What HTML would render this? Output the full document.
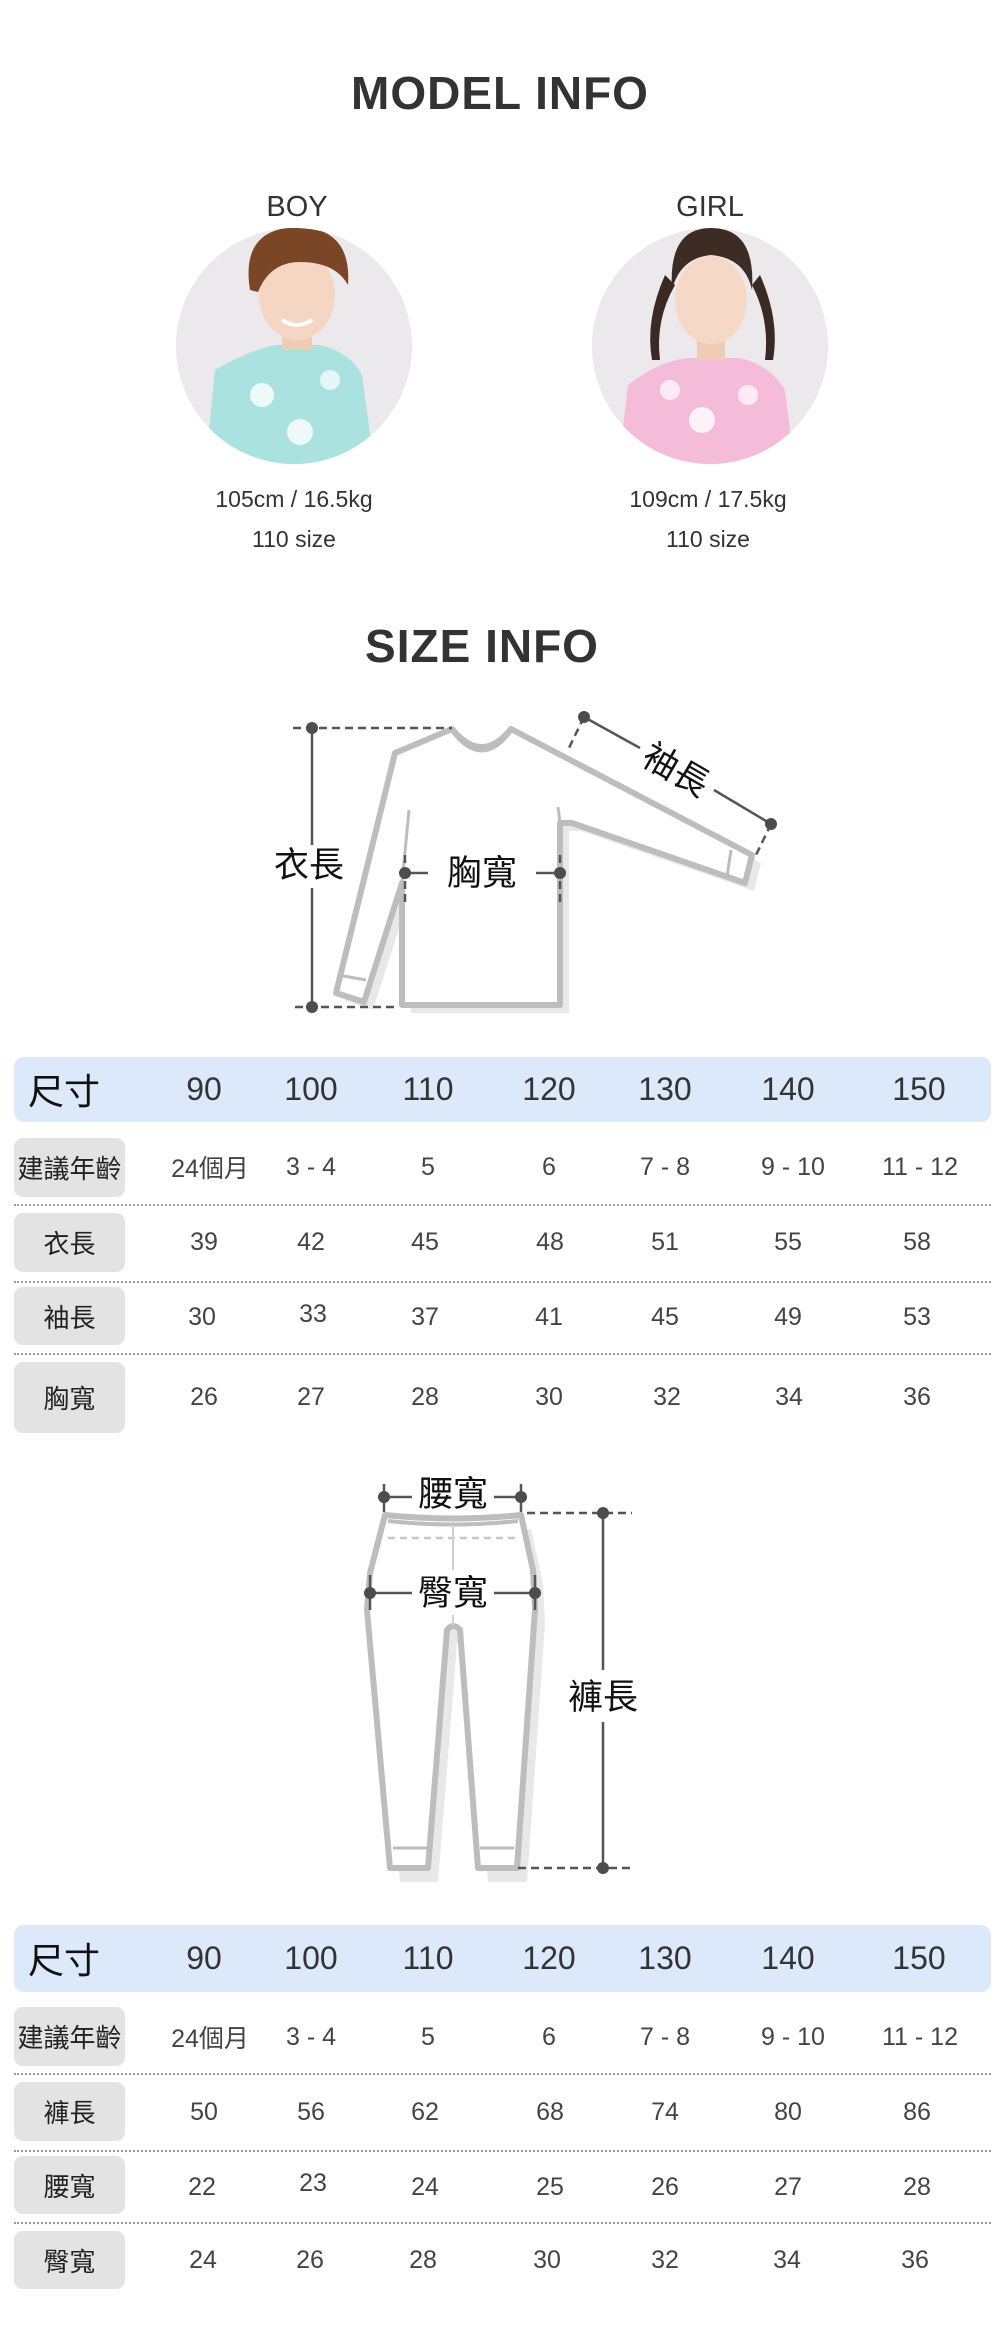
<!DOCTYPE html>
<html><head><meta charset="utf-8">
<style>
*{margin:0;padding:0;box-sizing:border-box}
body{width:1000px;height:2329px;background:#fff;position:relative;overflow:hidden;font-family:"Liberation Sans","Noto Sans CJK TC",sans-serif;color:#333}
.t{position:absolute;text-align:center;white-space:nowrap;line-height:1}
.h{font-weight:bold;font-size:46px;letter-spacing:1px;color:#333}
.band{position:absolute;left:14px;width:977px;background:#dce9fb;border-radius:10px}
.lb{position:absolute;left:14px;width:111px;background:#e3e3e3;border-radius:9px;display:flex;align-items:center;justify-content:center;font-size:26px;color:#222;font-family:"Noto Sans CJK TC",sans-serif}
.dot{position:absolute;left:14px;width:977px;border-top:2px dotted #9a9a9a}
.c{position:absolute;width:140px;margin-left:-70px;text-align:center;line-height:1;white-space:nowrap}
.hd{font-size:32px;color:#333}
.rw{font-size:25px;color:#444}
</style></head><body>

<div class="t h" style="left:0;width:1000px;top:70px">MODEL INFO</div>
<div class="t" style="left:197px;width:200px;top:193px;font-size:29px">BOY</div>
<div class="t" style="left:610px;width:200px;top:193px;font-size:29px">GIRL</div>
<div class="t" style="left:194px;width:200px;top:488px;font-size:23px">105cm / 16.5kg</div>
<div class="t" style="left:194px;width:200px;top:528px;font-size:23px">110 size</div>
<div class="t" style="left:608px;width:200px;top:488px;font-size:23px">109cm / 17.5kg</div>
<div class="t" style="left:608px;width:200px;top:528px;font-size:23px">110 size</div>
<div class="t h" style="left:-18px;width:1000px;top:623px">SIZE INFO</div>

<svg style="position:absolute;left:0;top:0" width="1000" height="2329" viewBox="0 0 1000 2329">
<defs>
<clipPath id="cb"><circle cx="294" cy="346" r="118"/></clipPath>
<clipPath id="cg"><circle cx="710" cy="346" r="118"/></clipPath>
</defs>
<!-- boy -->
<circle cx="294" cy="346" r="118" fill="#ebe9ec"/>
<g clip-path="url(#cb)">
<path d="M205,470 L215,370 Q250,350 275,345 L320,345 Q350,352 362,375 L375,470 Z" fill="#a9e2df"/>
<circle cx="262" cy="395" r="12" fill="#fff" opacity=".8"/><circle cx="300" cy="432" r="13" fill="#fff" opacity=".8"/><circle cx="330" cy="380" r="10" fill="#fff" opacity=".7"/>
<rect x="282" y="320" width="30" height="30" fill="#f1ccb4"/>
<ellipse cx="297" cy="295" rx="38" ry="45" fill="#f5d6c2"/>
<path d="M250,290 Q240,228 298,227 Q352,228 348,285 Q335,262 300,262 Q270,262 258,292 Z" fill="#7a4626"/>
<path d="M282,320 Q297,330 312,320" stroke="#fff" stroke-width="4" fill="none"/>
</g>
<!-- girl -->
<circle cx="710" cy="346" r="118" fill="#ebe9ec"/>
<g clip-path="url(#cg)">
<path d="M618,470 L628,385 Q660,360 690,358 L740,358 Q770,365 785,390 L795,470 Z" fill="#f5bcd9"/>
<circle cx="702" cy="420" r="13" fill="#fff" opacity=".8"/><circle cx="670" cy="390" r="10" fill="#fff" opacity=".7"/><circle cx="748" cy="395" r="10" fill="#fff" opacity=".7"/>
<path d="M675,285 Q655,320 660,360 L652,360 Q645,320 665,275 Z" fill="#3a2a22"/>
<path d="M752,285 Q770,320 765,360 L773,360 Q780,320 760,275 Z" fill="#3a2a22"/>
<rect x="697" y="330" width="28" height="30" fill="#f1ccb4"/>
<ellipse cx="711" cy="300" rx="36" ry="44" fill="#f6d8c6"/>
<path d="M672,290 Q668,228 711,228 Q756,228 752,290 Q745,258 711,255 Q680,258 672,290 Z" fill="#3d2c24"/>
</g>

<!-- shirt diagram -->
<g transform="translate(9,8)"><path d="M452,729 Q482,765 511,729 L752,855 L745,883 L572,823 L560,823 L560,1005 L402,1005 L402,883 L364,1002 L336,993 L395,753 Z" fill="#e8e8e8"/></g>
<path d="M452,729 Q482,765 511,729 L752,855 L745,883 L572,823 L560,823 L560,1005 L402,1005 L402,883 L364,1002 L336,993 L395,753 Z" fill="#fff" stroke="#bdbdbd" stroke-width="6" stroke-linejoin="round"/>
<path d="M452,729 Q482,770 511,729" stroke="#bdbdbd" stroke-width="6" fill="none"/>
<path d="M338,975 L366,980 M731,850 L727,877" stroke="#bdbdbd" stroke-width="3"/>
<path d="M409,810 L402,883 M558,807 L560,823" stroke="#bdbdbd" stroke-width="3"/>
<g stroke="#555" stroke-width="2.5" stroke-dasharray="8,5" fill="none">
<path d="M293,728 L452,728"/><path d="M295,1007 L399,1007"/>
<path d="M584,717 L567,752"/><path d="M771,824 L755,857"/>
<path d="M405,855 L405,905"/><path d="M560,855 L560,905"/>
</g>
<g stroke="#555" stroke-width="2.5" fill="none">
<path d="M312,728 L312,845"/><path d="M312,888 L312,1007"/>
<path d="M405,873 L428,873"/><path d="M536,873 L560,873"/>
<path d="M584,717 L640,748"/><path d="M714,790 L771,824"/>
</g>
<g fill="#4d4d4d">
<circle cx="312" cy="728" r="6"/><circle cx="312" cy="1007" r="6"/>
<circle cx="405" cy="873" r="6"/><circle cx="560" cy="873" r="6"/>
<circle cx="584" cy="717" r="6"/><circle cx="771" cy="824" r="6"/>
</g>
<g font-family="'Noto Sans CJK TC',sans-serif" font-size="35" fill="#111" text-anchor="middle">
<text x="309" y="877">衣長</text>
<text x="482" y="885">胸寬</text>
<text x="676" y="782" transform="rotate(30 676 770)">袖長</text>
</g>

<!-- pants diagram -->
<g transform="translate(10,14)"><path d="M385,1515 Q453,1522 521,1515 L533,1570 L535,1610 L517,1868 L478,1868 L460,1630 Q453,1622 447,1630 L428,1868 L390,1868 L367,1610 L370,1573 Z" fill="#e8e8e8"/></g>
<path d="M385,1515 Q453,1522 521,1515 L533,1570 L535,1610 L517,1868 L478,1868 L460,1630 Q453,1622 447,1630 L428,1868 L390,1868 L367,1610 L370,1573 Z" fill="#fff" stroke="#bdbdbd" stroke-width="6" stroke-linejoin="round"/>
<path d="M388,1521 Q453,1528 518,1521" stroke="#bdbdbd" stroke-width="4" fill="none"/>
<path d="M388,1538 L518,1538" stroke="#c8c8c8" stroke-width="2.5" stroke-dasharray="7,5"/>
<path d="M453,1525 L453,1570 M453,1615 L453,1625" stroke="#d0d0d0" stroke-width="2"/>
<path d="M393,1848 L427,1848 M480,1848 L514,1848" stroke="#bdbdbd" stroke-width="3"/>
<g stroke="#555" stroke-width="2.5" fill="none">
<path d="M384,1497 L412,1497"/><path d="M494,1497 L521,1497"/>
<path d="M384,1484 L384,1512 M521,1484 L521,1512"/>
<path d="M370,1593 L412,1593"/><path d="M494,1593 L535,1593"/>
<path d="M370,1575 L370,1610 M535,1575 L535,1610"/>
<path d="M603,1513 L603,1670"/><path d="M603,1722 L603,1868"/>
</g>
<g stroke="#555" stroke-width="2.5" stroke-dasharray="8,5">
<path d="M527,1513 L632,1513"/><path d="M518,1868 L632,1868"/>
</g>
<g fill="#4d4d4d">
<circle cx="384" cy="1497" r="6"/><circle cx="521" cy="1497" r="6"/>
<circle cx="370" cy="1593" r="6"/><circle cx="535" cy="1593" r="6"/>
<circle cx="603" cy="1513" r="6"/><circle cx="603" cy="1868" r="6"/>
</g>
<g font-family="'Noto Sans CJK TC',sans-serif" font-size="35" fill="#111" text-anchor="middle">
<text x="453" y="1506">腰寬</text>
<text x="453" y="1605">臀寬</text>
<text x="603" y="1709">褲長</text>
</g>
</svg>

<!-- table 1 -->
<div class="band" style="top:1057px;height:65px"></div>
<div class="c" style="left:64px;top:1071px;font-size:36px;color:#111;font-family:'Noto Sans CJK TC',sans-serif">尺寸</div>
<div class="c hd" style="left:204px;top:1073px">90</div>
<div class="c hd" style="left:311px;top:1073px">100</div>
<div class="c hd" style="left:428px;top:1073px">110</div>
<div class="c hd" style="left:549px;top:1073px">120</div>
<div class="c hd" style="left:665px;top:1073px">130</div>
<div class="c hd" style="left:788px;top:1073px">140</div>
<div class="c hd" style="left:919px;top:1073px">150</div>

<div class="lb" style="top:1138px;height:59px">建議年齡</div>
<div class="c rw" style="left:210px;top:1155px">24<span style="font-family:'Noto Sans CJK TC'">個月</span></div>
<div class="c rw" style="left:311px;top:1155px">3 - 4</div>
<div class="c rw" style="left:428px;top:1155px">5</div>
<div class="c rw" style="left:549px;top:1155px">6</div>
<div class="c rw" style="left:665px;top:1155px">7 - 8</div>
<div class="c rw" style="left:793px;top:1155px">9 - 10</div>
<div class="c rw" style="left:920px;top:1155px">11 - 12</div>
<div class="dot" style="top:1204px"></div>

<div class="lb" style="top:1213px;height:59px">衣長</div>
<div class="c rw" style="left:204px;top:1230px">39</div>
<div class="c rw" style="left:311px;top:1230px">42</div>
<div class="c rw" style="left:425px;top:1230px">45</div>
<div class="c rw" style="left:550px;top:1230px">48</div>
<div class="c rw" style="left:665px;top:1230px">51</div>
<div class="c rw" style="left:788px;top:1230px">55</div>
<div class="c rw" style="left:917px;top:1230px">58</div>
<div class="dot" style="top:1281px"></div>

<div class="lb" style="top:1287px;height:58px">袖長</div>
<div class="c rw" style="left:202px;top:1305px">30</div>
<div class="c rw" style="left:313px;top:1302px">33</div>
<div class="c rw" style="left:425px;top:1305px">37</div>
<div class="c rw" style="left:549px;top:1305px">41</div>
<div class="c rw" style="left:665px;top:1305px">45</div>
<div class="c rw" style="left:788px;top:1305px">49</div>
<div class="c rw" style="left:917px;top:1305px">53</div>
<div class="dot" style="top:1353px"></div>

<div class="lb" style="top:1362px;height:71px">胸寬</div>
<div class="c rw" style="left:204px;top:1385px">26</div>
<div class="c rw" style="left:311px;top:1385px">27</div>
<div class="c rw" style="left:425px;top:1385px">28</div>
<div class="c rw" style="left:549px;top:1385px">30</div>
<div class="c rw" style="left:667px;top:1385px">32</div>
<div class="c rw" style="left:789px;top:1385px">34</div>
<div class="c rw" style="left:917px;top:1385px">36</div>

<!-- table 2 -->
<div class="band" style="top:1925px;height:67px"></div>
<div class="c" style="left:64px;top:1940px;font-size:36px;color:#111;font-family:'Noto Sans CJK TC',sans-serif">尺寸</div>
<div class="c hd" style="left:204px;top:1942px">90</div>
<div class="c hd" style="left:311px;top:1942px">100</div>
<div class="c hd" style="left:428px;top:1942px">110</div>
<div class="c hd" style="left:549px;top:1942px">120</div>
<div class="c hd" style="left:665px;top:1942px">130</div>
<div class="c hd" style="left:788px;top:1942px">140</div>
<div class="c hd" style="left:919px;top:1942px">150</div>

<div class="lb" style="top:2007px;height:59px">建議年齡</div>
<div class="c rw" style="left:210px;top:2025px">24<span style="font-family:'Noto Sans CJK TC'">個月</span></div>
<div class="c rw" style="left:311px;top:2025px">3 - 4</div>
<div class="c rw" style="left:428px;top:2025px">5</div>
<div class="c rw" style="left:549px;top:2025px">6</div>
<div class="c rw" style="left:665px;top:2025px">7 - 8</div>
<div class="c rw" style="left:793px;top:2025px">9 - 10</div>
<div class="c rw" style="left:920px;top:2025px">11 - 12</div>
<div class="dot" style="top:2073px"></div>

<div class="lb" style="top:2082px;height:59px">褲長</div>
<div class="c rw" style="left:204px;top:2100px">50</div>
<div class="c rw" style="left:311px;top:2100px">56</div>
<div class="c rw" style="left:425px;top:2100px">62</div>
<div class="c rw" style="left:550px;top:2100px">68</div>
<div class="c rw" style="left:665px;top:2100px">74</div>
<div class="c rw" style="left:788px;top:2100px">80</div>
<div class="c rw" style="left:917px;top:2100px">86</div>
<div class="dot" style="top:2150px"></div>

<div class="lb" style="top:2156px;height:58px">腰寬</div>
<div class="c rw" style="left:202px;top:2175px">22</div>
<div class="c rw" style="left:313px;top:2171px">23</div>
<div class="c rw" style="left:425px;top:2175px">24</div>
<div class="c rw" style="left:550px;top:2175px">25</div>
<div class="c rw" style="left:665px;top:2175px">26</div>
<div class="c rw" style="left:788px;top:2175px">27</div>
<div class="c rw" style="left:917px;top:2175px">28</div>
<div class="dot" style="top:2222px"></div>

<div class="lb" style="top:2231px;height:58px">臀寬</div>
<div class="c rw" style="left:203px;top:2248px">24</div>
<div class="c rw" style="left:310px;top:2248px">26</div>
<div class="c rw" style="left:423px;top:2248px">28</div>
<div class="c rw" style="left:547px;top:2248px">30</div>
<div class="c rw" style="left:665px;top:2248px">32</div>
<div class="c rw" style="left:787px;top:2248px">34</div>
<div class="c rw" style="left:915px;top:2248px">36</div>

</body></html>
